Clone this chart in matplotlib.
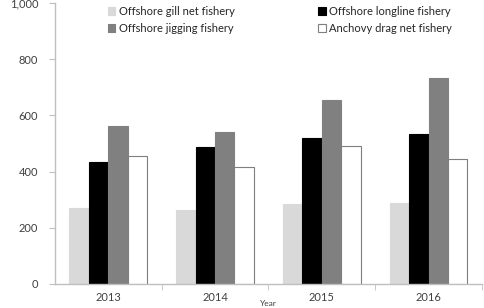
import matplotlib
matplotlib.use("Agg")
import matplotlib.pyplot as plt
import numpy as np

plt.rcParams['font.family'] = ['Lato', 'DejaVu Sans']

years = ['2013', '2014', '2015', '2016']
gill_net = [270, 265, 284, 287]
longline = [433, 486, 521, 533]
jigging = [563, 541, 655, 735]
anchovy = [456, 416, 491, 444]

series = [
    ('Offshore gill net fishery', gill_net, '#d9d9d9', '#d9d9d9'),
    ('Offshore longline fishery', longline, '#000000', '#000000'),
    ('Offshore jigging fishery', jigging, '#808080', '#808080'),
    ('Anchovy drag net fishery', anchovy, '#ffffff', '#7f7f7f'),
]

fig = plt.figure(figsize=(4.84, 3.08), dpi=100)
ax = fig.add_axes([0.1136, 0.078, 0.882, 0.912])

x = np.arange(len(years))
width = 0.182
for i, (name, vals, fc, ec) in enumerate(series):
    ax.bar(x + (i - 1.5) * width, vals, width, color=fc, edgecolor=ec,
           linewidth=0.8, label=name)

ax.set_xlim(-0.5, len(years) - 0.5)
ax.set_ylim(0, 1000)
ax.set_yticks(range(0, 1001, 200))
ax.set_yticklabels(['0', '200', '400', '600', '800', '1,000'])
ax.set_xticks(x)
ax.set_xticklabels(years)
ax.set_xticks(x + 0.5, minor=True)
ax.tick_params(axis='x', which='major', length=0, pad=6, labelsize=8, colors='#404040')
ax.tick_params(axis='x', which='minor', length=4, color='#bfbfbf', direction='out')
ax.tick_params(axis='y', length=4, color='#bfbfbf', labelsize=8, labelcolor='#404040', pad=8)

for side in ['top', 'right']:
    ax.spines[side].set_visible(False)
for side in ['left', 'bottom']:
    ax.spines[side].set_color('#bfbfbf')
    ax.spines[side].set_linewidth(1.0)

# axis title sits right at the bottom edge, as in the source image
fig.text(0.5536, 0.002, 'Year', fontsize=6, color='#404040',
         ha='center', va='bottom')

handles, labels = ax.get_legend_handles_labels()
order = [0, 2, 1, 3]
leg = ax.legend([handles[i] for i in order], [labels[i] for i in order],
                ncol=2, loc='upper left', bbox_to_anchor=(0.10, 1.025),
                frameon=False, fontsize=8, handlelength=0.7, handleheight=0.7,
                handletextpad=0.3, columnspacing=7.5, labelspacing=0.5)
for t in leg.get_texts():
    t.set_color('#262626')

fig.savefig('out.png', dpi=100)
